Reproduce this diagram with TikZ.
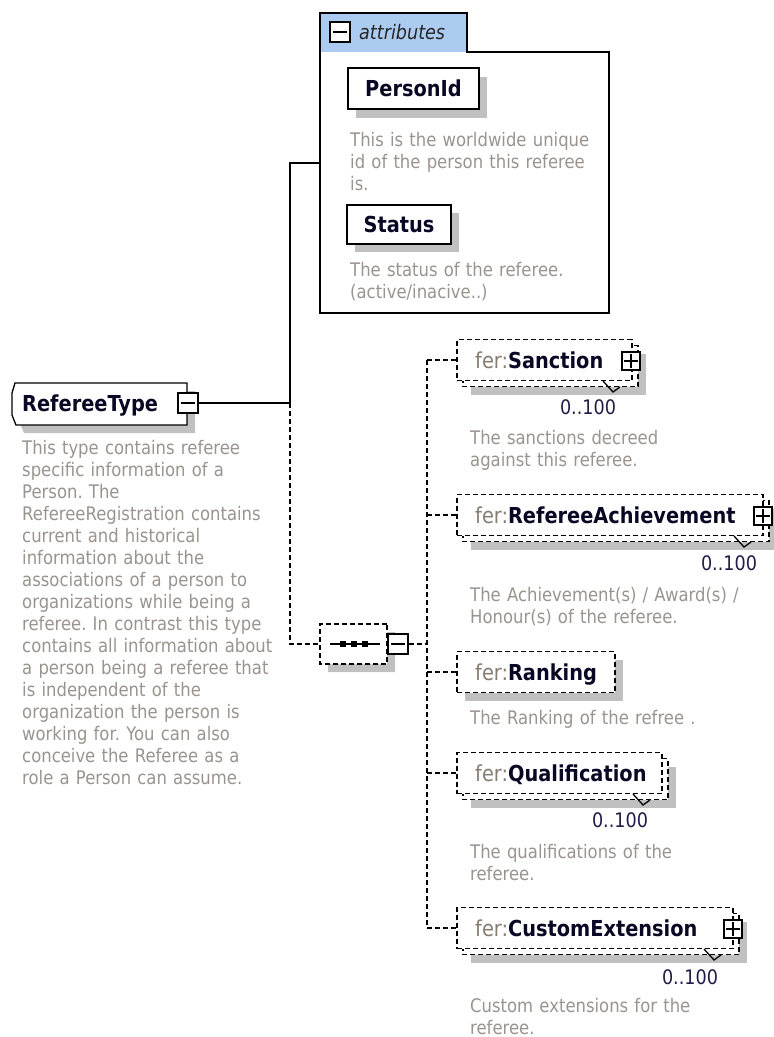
\documentclass[tikz,border=0pt]{standalone}
\usepackage{fontspec}
\setmainfont{DejaVu Sans}[FakeStretch=0.88]
\usetikzlibrary{calc,shapes.misc}
\definecolor{tabblue}{RGB}{172,203,241}
\definecolor{shade}{RGB}{192,192,192}
\definecolor{desc}{RGB}{155,148,142}
\definecolor{prefix}{RGB}{135,124,114}
\definecolor{namec}{RGB}{8,8,36}
\definecolor{occ}{RGB}{36,28,72}
\newcommand\dscfont{\fontsize{18.7pt}{22pt}\selectfont}
\newcommand\nmfont{\bfseries\fontsize{22pt}{26pt}\selectfont}
\newcommand\occfont{\fontsize{20pt}{24pt}\selectfont}
\newcommand\pfx{\textcolor{prefix}{\mdseries fer:}}
\tikzset{
  ln/.style={line width=1.3pt, draw=black},
  dln/.style={line width=1.3pt, draw=black, dash pattern=on 5pt off 3pt},
  sbox/.style={ln, fill=white, inner sep=0pt, font=\nmfont, text=namec},
  dbox/.style={dln, fill=white, inner sep=0pt},
  shadowfill/.style={fill=shade, draw=none},
  btn/.style={ln, fill=white, minimum width=18pt, minimum height=18pt, inner sep=0pt},
  desctext/.style={anchor=base west, inner sep=0pt, text=desc, font=\dscfont, align=left, text width=330pt},
  nametext/.style={anchor=base west, inner sep=0pt, text=namec, font=\nmfont},
  occtext/.style={anchor=base, inner sep=0pt, text=occ, font=\occfont},
}
\frenchspacing
\begin{document}
\frenchspacing
\begin{tikzpicture}[x=1pt,y=-1pt]
\clip (0,0) rectangle (774,1037);
\fill[white] (0,0) rectangle (774,1037);

% ---------- attributes group ----------
\fill[tabblue] (320,13) rectangle (467,52);
\draw[ln] (320,52) -- (320,13) -- (467,13) -- (467,52) -- (609,52) -- (609,313) -- (320,313) -- cycle;
\coordinate (attrL) at (320,163);
\node[btn, minimum width=20pt, minimum height=20pt] (attrB) at (340,32) {};
\draw[ln] ($(attrB.west)+(4,0)$) -- ($(attrB.east)+(-4,0)$);
\node[anchor=base west, inner sep=0pt, font=\itshape\fontsize{20pt}{24pt}\selectfont, text=black!85] (attrT) at (359,39) {attributes};

\fill[shadowfill] (356,77) rectangle (487,118);
\node[sbox, minimum width=131pt, minimum height=41pt] (pid) at (413.5,88.5) {PersonId};
\node[desctext] (pidD) at (350,146) {This is the worldwide unique\\id of the person this referee\\is.};

\fill[shadowfill] (355,213) rectangle (459,252);
\node[sbox, minimum width=104pt, minimum height=39pt] (stat) at (399,224.5) {Status};
\node[desctext] (statD) at (350,276) {The status of the referee.\\(active/inacive..)};

% ---------- RefereeType ----------
\fill[shadowfill] (23,391) -- (195,391) -- (195,433) -- (24,433) -- (20,423) -- (20,401) -- cycle;
\draw[ln, fill=white] (15,383) -- (187,383) -- (187,425) -- (16,425) -- (12,415) -- (12,393) -- cycle;
\node[nametext] (rtT) at (22,411) {RefereeType};
\node[btn, minimum width=20pt, minimum height=20pt] (rtB) at (188,403) {};
\draw[ln] ($(rtB.west)+(4,0)$) -- ($(rtB.east)+(-4,0)$);
\node[desctext] (rtD) at (22,454) {This type contains referee\\specific information of a\\Person. The\\RefereeRegistration contains\\current and historical\\information about the\\associations of a person to\\organizations while being a\\referee. In contrast this type\\contains all information about\\a person being a referee that\\is independent of the\\organization the person is\\working for. You can also\\conceive the Referee as a\\role a Person can assume.};

% ---------- main connectors ----------
\coordinate (jA) at (290,403);
\draw[ln] (rtB.east) -- (jA);
\draw[ln] (jA) |- (attrL);

% ---------- sequence compositor ----------
\node[chamfered rectangle, chamfered rectangle xsep=9pt, chamfered rectangle ysep=9pt, shadowfill, minimum width=67pt, minimum height=40pt, inner sep=0pt] (seqS) at (361.5,652) {};
\node[chamfered rectangle, chamfered rectangle xsep=9pt, chamfered rectangle ysep=9pt, dbox, minimum width=67pt, minimum height=40pt] (seq) at (353.5,644) {};
\draw[dln] (jA) |- (seq.west);
\draw[ln] (330,644) -- (380,644);
\foreach \dx in {343,354,365} \fill (\dx-3,641) rectangle (\dx+3,647);
\node[btn, minimum width=20pt, minimum height=20pt] (seqB) at (398,644) {};
\draw[ln] ($(seqB.west)+(4,0)$) -- ($(seqB.east)+(-4,0)$);
\coordinate (jB) at (427,644);
\draw[dln] (seqB.east) -- (jB);

% ---------- element: Sanction ----------
\fill[shadowfill] (471,353.5) rectangle (646,394.5);
\draw[dln, fill=white] (463,345.5) rectangle (638,386.5);
\node[dbox, minimum width=175pt, minimum height=41pt] (san) at (544.5,360) {};
\draw[ln] (603,381) -- (613,392) -- (620,387);
\node[nametext] (sanT) at (475,368) {\pfx Sanction};
\node[btn] (sanB) at (631,361) {};
\draw[ln] ($(sanB.west)+(3,0)$) -- ($(sanB.east)+(-3,0)$) ($(sanB.north)+(0,3)$) -- ($(sanB.south)+(0,-3)$);
\node[occtext] (sanO) at (588,414) {0..100};
\node[desctext] (sanD) at (470,444) {The sanctions decreed\\against this referee.};

% ---------- element: RefereeAchievement ----------
\fill[shadowfill] (471,508.5) rectangle (777,549.5);
\draw[dln, fill=white] (463,500.5) rectangle (769,541.5);
\node[dbox, minimum width=306pt, minimum height=41pt] (ach) at (610,515) {};
\draw[ln] (734,536) -- (744,547) -- (751,542);
\node[nametext] (achT) at (475,523) {\pfx RefereeAchievement};
\node[btn] (achB) at (763,516) {};
\draw[ln] ($(achB.west)+(3,0)$) -- ($(achB.east)+(-3,0)$) ($(achB.north)+(0,3)$) -- ($(achB.south)+(0,-3)$);
\node[occtext] (achO) at (729,570) {0..100};
\node[desctext] (achD) at (470,601) {The Achievement(s) / Award(s) /\\Honour(s) of the referee.};

% ---------- element: Ranking ----------
\fill[shadowfill] (465,660) rectangle (623,701);
\node[dbox, minimum width=158pt, minimum height=41pt] (rank) at (536,672) {};
\node[nametext] (rankT) at (475,680) {\pfx Ranking};
\node[desctext] (rankD) at (470,724) {The Ranking of the refree .};

% ---------- element: Qualification ----------
\fill[shadowfill] (471,766.5) rectangle (676,807.5);
\draw[dln, fill=white] (463,758.5) rectangle (668,799.5);
\node[dbox, minimum width=205pt, minimum height=41pt] (qual) at (559.5,773) {};
\draw[ln] (633,794) -- (643,805) -- (650,800);
\node[nametext] (qualT) at (475,781) {\pfx Qualification};
\node[occtext] (qualO) at (620,827) {0..100};
\node[desctext] (qualD) at (470,858) {The qualifications of the\\referee.};

% ---------- element: CustomExtension ----------
\fill[shadowfill] (471,921.5) rectangle (747,962.5);
\draw[dln, fill=white] (463,913.5) rectangle (739,954.5);
\node[dbox, minimum width=276pt, minimum height=41pt] (cust) at (595,928) {};
\draw[ln] (704,949) -- (714,960) -- (721,955);
\node[nametext] (custT) at (475,936) {\pfx CustomExtension};
\node[btn] (custB) at (733,929) {};
\draw[ln] ($(custB.west)+(3,0)$) -- ($(custB.east)+(-3,0)$) ($(custB.north)+(0,3)$) -- ($(custB.south)+(0,-3)$);
\node[occtext] (custO) at (690,984) {0..100};
\node[desctext] (custD) at (470,1012) {Custom extensions for the\\referee.};

% ---------- sequence branches ----------
\coordinate (jTop) at (427,360);
\coordinate (jBot) at (427,928);
\draw[dln] (jTop) -- (jBot);
\draw[dln] (jTop) -- (san.west);
\draw[dln] (ach.west -| jTop) -- (ach.west);
\draw[dln] (rank.west -| jTop) -- (rank.west);
\draw[dln] (qual.west -| jTop) -- (qual.west);
\draw[dln] (jBot) -- (cust.west);
\end{tikzpicture}
\end{document}
